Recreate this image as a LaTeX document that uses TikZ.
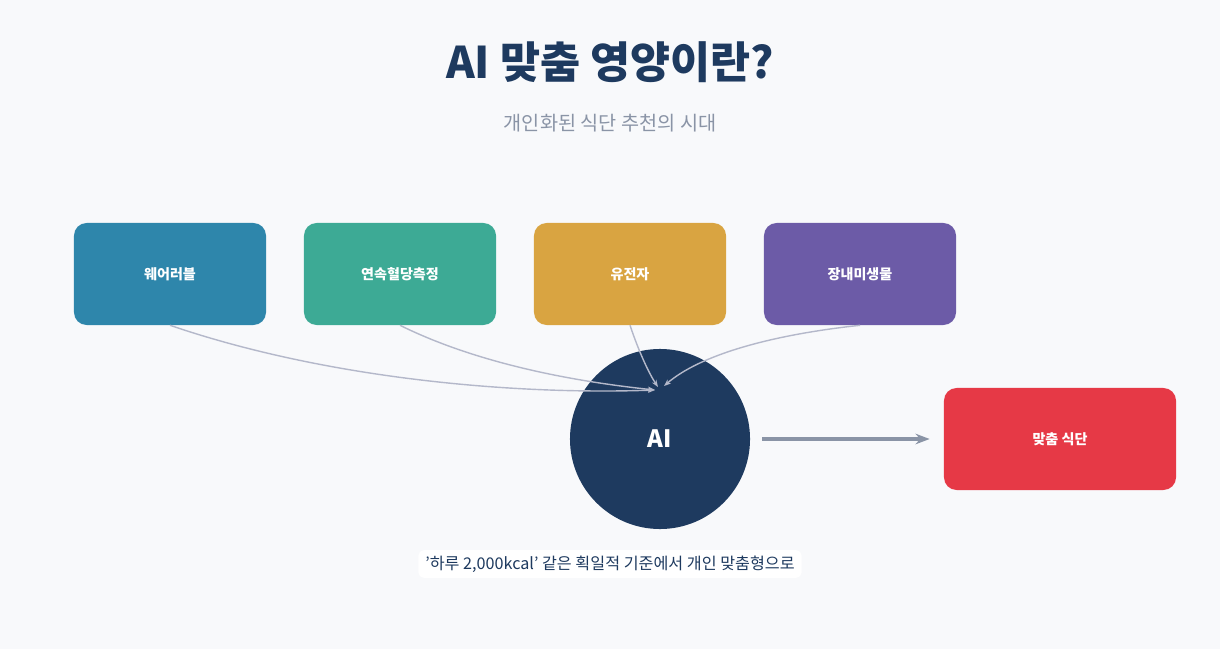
\documentclass[tikz,border=0pt]{standalone}
\usepackage{fontspec}
\setmainfont{Noto Sans CJK KR}
\usetikzlibrary{arrows.meta}
\definecolor{navy}{HTML}{1E3A5F}
\definecolor{subgray}{HTML}{8A94A6}
\definecolor{linegray}{HTML}{B4B8CA}
\definecolor{bgcol}{HTML}{F8F9FB}
\definecolor{cblue}{HTML}{2E86AB}
\definecolor{cgreen}{HTML}{3DAA95}
\definecolor{cyellow}{HTML}{D9A441}
\definecolor{cpurple}{HTML}{6C5BA7}
\definecolor{cred}{HTML}{E63946}
\tikzset{
  src/.style={rounded corners=9pt, minimum width=4.8cm, minimum height=2.55cm,
    text=white, font=\fontsize{10}{12}\selectfont\bfseries, inner sep=0pt},
  feed/.style={draw=linegray, line width=1pt, -{Stealth[length=5pt]}},
}
\begin{document}
\begin{tikzpicture}[x=0.025cm,y=-0.025cm]
\fill[bgcol] (0,0) rectangle (1220,649);
\useasboundingbox (0,0) rectangle (1220,649);
%=======title=============
\node[text=navy, font=\fontsize{31}{36}\selectfont\bfseries] (title) at (610,62) {AI 맞춤 영양이란?};
\node[text=subgray, font=\fontsize{14}{17}\selectfont] (subtitle) at (610,123) {개인화된 식단 추천의 시대};
%=======sources=============
\node[src, fill=cblue] (wear) at (170,274) {웨어러블};
\node[src, fill=cgreen] (cgm) at (400,274) {연속혈당측정};
\node[src, fill=cyellow] (gene) at (630,274) {유전자};
\node[src, fill=cpurple] (gut) at (860,274) {장내미생물};
%=======AI=============
\node[circle, fill=navy, minimum size=4.5cm, text=white, font=\fontsize{17}{20}\selectfont\bfseries] (ai) at (660,439) {AI};
\node[src, fill=cred, minimum width=5.8cm] (diet) at (1060,439) {맞춤 식단};
\coordinate (in1) at (655,390);
\coordinate (in2) at (658,387);
\coordinate (in3) at (664,386);
\draw[feed] (wear.south) .. controls (330,380) and (520,395) .. (in1);
\draw[feed] (cgm.south) .. controls (470,360) and (560,380) .. (in1);
\draw[feed] (gene.south) .. controls (640,355) and (650,375) .. (in2);
\draw[feed] (gut.south) .. controls (770,335) and (700,355) .. (in3);
\draw[draw=subgray, line width=2.5pt, -{Stealth[length=10pt]}] (ai.east) ++(12,0) coordinate (aiout) -- ([xshift=-10]diet.west);
%=======note=============
\node[fill=white, rounded corners=4pt, text=navy, font=\fontsize{11.5}{14}\selectfont, inner xsep=5pt, inner ysep=4pt] (note) at (610,564) {'하루 2,000kcal' 같은 획일적 기준에서 개인 맞춤형으로};
\end{tikzpicture}
\end{document}
